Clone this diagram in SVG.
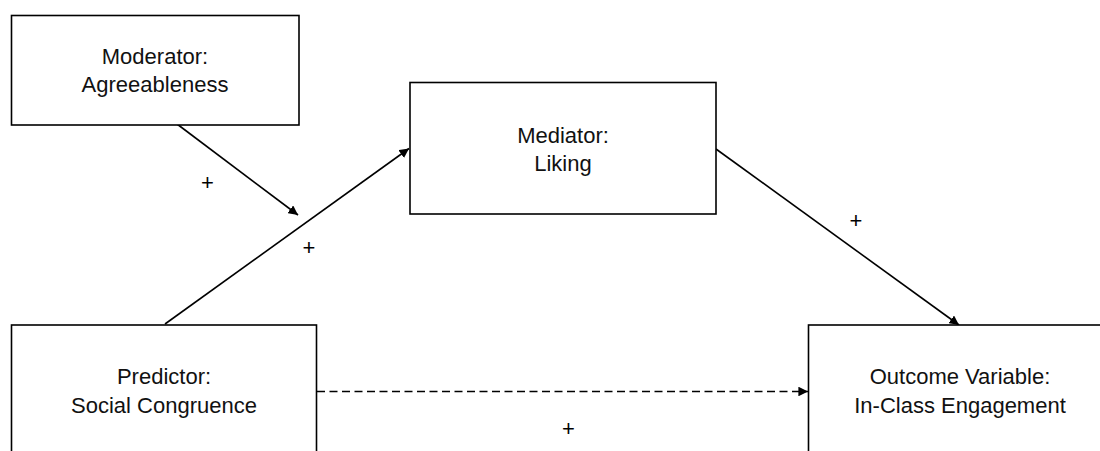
<svg xmlns="http://www.w3.org/2000/svg" width="1100" height="451" viewBox="0 0 1100 451">
<defs>
<style>
.box{fill:#fff;stroke:#000;stroke-width:1.6}
.lbl{font-family:"Liberation Sans",Arial,sans-serif;font-size:22px;fill:#111;text-anchor:middle}
.sign{font-family:"Liberation Sans",Arial,sans-serif;font-size:22px;fill:#000;text-anchor:middle}
.edge{fill:none;stroke:#000;stroke-width:1.6;marker-end:url(#ah)}
.dash{stroke-dasharray:8 4.5}
</style>
<marker id="ah" viewBox="0 0 10 10" refX="10" refY="5" markerWidth="6" markerHeight="6" orient="auto" markerUnits="strokeWidth">
<path d="M0,0 L10,5 L0,10 z" fill="#000"/>
</marker>
</defs>
<rect width="1100" height="451" fill="#fff"/>
<g id="connectors">
<line class="edge" x1="177" y1="124" x2="298" y2="215"/>
<line class="edge" x1="165" y1="324" x2="409" y2="148.5"/>
<line class="edge" x1="716" y1="149" x2="959" y2="325"/>
<line class="edge dash" x1="317" y1="391.5" x2="808" y2="391.5"/>
</g>
<g id="moderator">
<rect class="box" x="11.5" y="15.5" width="287.5" height="109.5"/>
<text class="lbl" x="155" y="64">Moderator:</text>
<text class="lbl" x="155" y="92">Agreeableness</text>
</g>
<g id="mediator">
<rect class="box" x="410" y="82.5" width="306" height="131.5"/>
<text class="lbl" x="563" y="142.5">Mediator:</text>
<text class="lbl" x="563" y="170.5">Liking</text>
</g>
<g id="predictor">
<rect class="box" x="11.5" y="325" width="305" height="140"/>
<text class="lbl" x="164" y="384">Predictor:</text>
<text class="lbl" x="164" y="413">Social Congruence</text>
</g>
<g id="outcome">
<rect class="box" x="808.5" y="325" width="304" height="140"/>
<text class="lbl" x="960" y="384">Outcome Variable:</text>
<text class="lbl" x="960" y="413">In-Class Engagement</text>
</g>
<g id="signs">
<text class="sign" x="207.5" y="190">+</text>
<text class="sign" x="309" y="255">+</text>
<text class="sign" x="856" y="228">+</text>
<text class="sign" x="568.5" y="436">+</text>
</g>
</svg>
